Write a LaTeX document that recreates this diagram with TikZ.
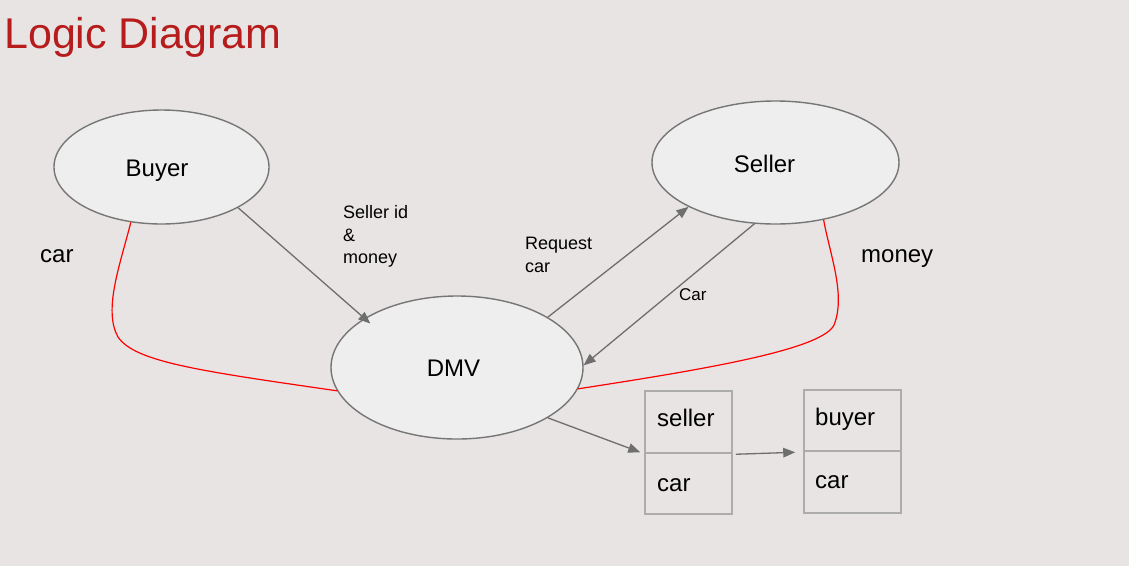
\documentclass[tikz,border=0pt]{standalone}
\usepackage{fontspec}
\setmainfont{Liberation Sans}
\usetikzlibrary{shapes.geometric,arrows.meta}
\definecolor{bg}{RGB}{232,228,227}
\definecolor{ellfill}{RGB}{238,238,238}
\definecolor{ellline}{RGB}{118,118,118}
\definecolor{conn}{RGB}{110,110,110}
\definecolor{boxline}{RGB}{172,172,172}
\definecolor{titlered}{RGB}{183,28,28}
\begin{document}
\begin{tikzpicture}[x=1pt,y=-1pt,
  ent/.style={ellipse, draw=ellline, fill=ellfill, line width=1.4pt, inner sep=0pt},
  flow/.style={draw=conn, line width=1.3pt, -{Triangle[length=12pt,width=9.5pt]}},
  moneyline/.style={draw=red, line width=1.2pt},
  cell/.style={draw=boxline, line width=1.5pt, rectangle, inner sep=0pt},
  big/.style={font=\fontsize{24}{28}\selectfont, inner sep=0pt, text depth=0pt},
  small/.style={font=\fontsize{18}{22.5}\selectfont, inner sep=0pt, align=left},
]
\fill[bg] (0,0) rectangle (1129,566);
\useasboundingbox (0,0) rectangle (1129,566);

\node[anchor=base west, inner sep=0pt, text=titlered, font=\fontsize{43}{50}\selectfont] (title) at (4,48) {Logic Diagram};

% entities
\node[ent, minimum width=215pt, minimum height=114pt, label={[big,xshift=-4.5pt,yshift=-1pt]center:Buyer}] (buyer) at (161.5,167) {};
\node[ent, minimum width=247pt, minimum height=123pt, label={[big,xshift=-11pt,yshift=-1pt]center:Seller}] (seller) at (775.5,162.5) {};
\node[ent, minimum width=252pt, minimum height=143pt, label={[big,xshift=-3.5pt,yshift=-1pt]center:DMV}] (dmv) at (457,367.5) {};

% records
\node[cell, minimum width=87pt, minimum height=62pt] (s1) at (688.5,422) {};
\node[cell, minimum width=87pt, minimum height=61pt] (c1) at (688.5,483.5) {};
\node[cell, minimum width=97pt, minimum height=61pt] (b2) at (852.5,420.5) {};
\node[cell, minimum width=97pt, minimum height=62pt] (c2) at (852.5,482) {};
\node[big, anchor=base west] (s1t) at (657,426) {seller};
\node[big, anchor=base west] (c1t) at (657,491) {car};
\node[big, anchor=base west] (b2t) at (815,425) {buyer};
\node[big, anchor=base west] (c2t) at (815,488) {car};

% labels
\node[big, anchor=base west] (carlbl) at (40,262) {car};
\node[big, anchor=base west] (moneylbl) at (861,262) {money};
\node[small, anchor=north west] (sidlbl) at (343,205.5) {Seller id\\\&\\money};
\node[small, anchor=north west] (reqlbl) at (525,237) {Request\\car};
\node[font=\fontsize{17}{20}\selectfont, inner sep=0pt, anchor=base west] (carsm) at (679,300) {Car};

% connectors
\draw[flow, shorten >=-8pt] (buyer.-28.5) -- (dmv.152);
\draw[flow] (dmv.29.8) -- (seller.207);
\draw[flow] (seller.251.8) -- (dmv.1);
\draw[flow] (dmv.-29.8) -- ([xshift=-4pt]c1.north west);
\draw[flow] ([xshift=3pt,yshift=-2pt]c1.north east) -- ([xshift=-8pt,yshift=-2pt]c2.north west);

% red curves
\draw[moneyline] (buyer.-119) .. controls (120,265) and (103,310) .. (118,337)
  .. controls (135,362) and (200,371) .. (dmv.191);
\draw[moneyline] (seller.-50.7) .. controls (830,255) and (846,295) .. (834,325)
  .. controls (822,350) and (700,370) .. (dmv.-10.8);
\end{tikzpicture}
\end{document}
